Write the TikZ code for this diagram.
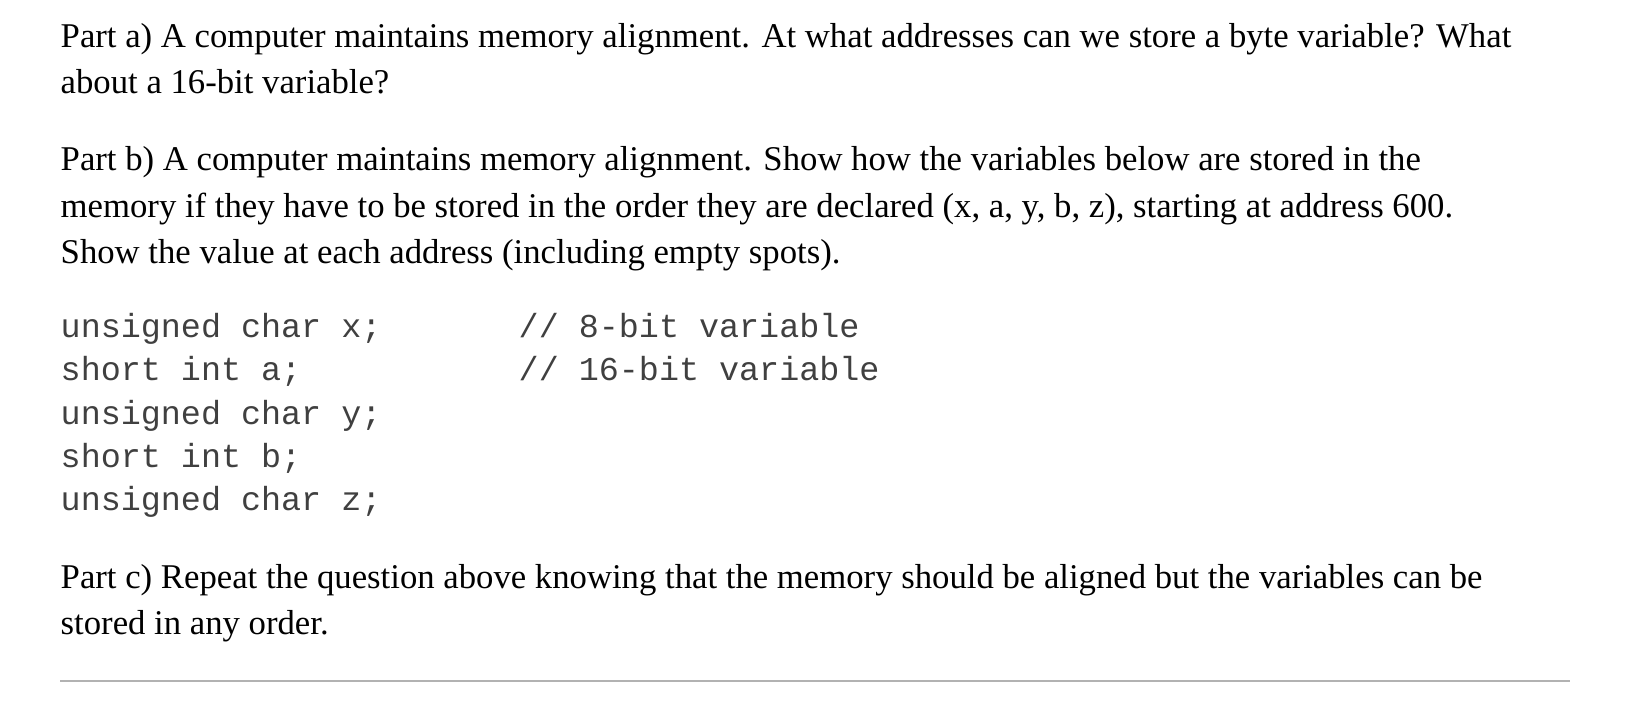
\documentclass[tikz,border=0pt]{standalone}
\usepackage{fontspec}
\setmainfont{Liberation Serif}
\setmonofont{Liberation Mono}
\tikzset{
  txt/.style={anchor=base west, inner sep=0pt, font=\fontsize{9.87pt}{12pt}\selectfont},
  code/.style={anchor=base west, inner sep=0pt, font=\ttfamily\fontsize{9.5pt}{11pt}\selectfont, text=black!75}
}
\begin{document}
\begin{tikzpicture}[x=0.01cm, y=-0.01cm]
  \useasboundingbox (0,0) rectangle (1630,708);
  % part a
  \node[txt] (a1) at (60,47) {Part a) A computer maintains memory alignment. At what addresses can we store a byte variable? What};
  \node[txt] (a2) at (60,93) {about a 16-bit variable?};
  % part b
  \node[txt] (b1) at (60,170) {Part b) A computer maintains memory alignment. Show how the variables below are stored in the};
  \node[txt] (b2) at (60,217) {memory if they have to be stored in the order they are declared (x, a, y, b, z), starting at address 600.};
  \node[txt] (b3) at (60,263) {Show the value at each address (including empty spots).};
  % code
  \node[code] (c1) at (60,337) {unsigned char x;};
  \node[code] (c2) at (60,380) {short int a;};
  \node[code] (c3) at (60,424) {unsigned char y;};
  \node[code] (c4) at (60,467) {short int b;};
  \node[code] (c5) at (60,510) {unsigned char z;};
  \node[code] (m1) at (518,337) {// 8-bit variable};
  \node[code] (m2) at (518,380) {// 16-bit variable};
  % part c
  \node[txt] (p1) at (60,588) {Part c) Repeat the question above knowing that the memory should be aligned but the variables can be};
  \node[txt] (p2) at (60,634) {stored in any order.};
  \draw[black!30, line width=0.6pt] (60,681) -- (1570,681);
\end{tikzpicture}
\end{document}
